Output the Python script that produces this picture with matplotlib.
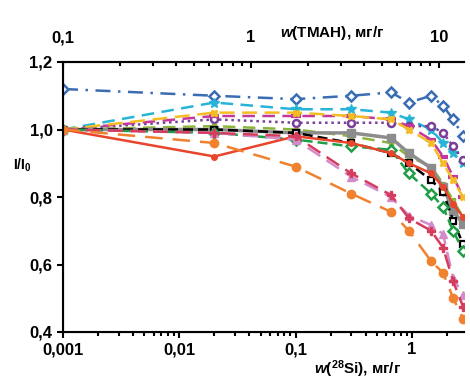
import numpy as np
import matplotlib
matplotlib.use('Agg')
import matplotlib.pyplot as plt
from matplotlib.ticker import LogLocator, NullFormatter

plt.rcParams['font.family'] = ['Liberation Sans', 'DejaVu Sans']
plt.rcParams['font.weight'] = 'bold'
plt.rcParams['mathtext.fontset'] = 'custom'
plt.rcParams['mathtext.rm'] = 'Liberation Sans:bold'
plt.rcParams['mathtext.it'] = 'Liberation Sans:italic:bold'
plt.rcParams['mathtext.bf'] = 'Liberation Sans:bold'

# w(28Si), mg/g
x = [0.001, 0.02, 0.1, 0.3, 0.66, 0.94, 1.46, 1.85, 2.26, 2.75]

blue    = [1.12, 1.10, 1.09, 1.10, 1.11, 1.08, 1.10, 1.07, 1.03, 0.98]
cyan    = [1.00, 1.08, 1.06, 1.06, 1.05, 1.03, 1.00, 0.96, 0.93, 0.90]
purple  = [1.00, 1.03, 1.02, 1.02, 1.02, 1.01, 1.01, 0.99, 0.95, 0.91]
magenta = [1.00, 1.04, 1.04, 1.04, 1.03, 1.01, 0.97, 0.92, 0.86, 0.80]
gold    = [1.00, 1.05, 1.05, 1.04, 1.03, 1.00, 0.96, 0.90, 0.85, 0.80]
olive   = [1.00, 1.01, 1.00, 0.98, 0.96, 0.92, 0.89, 0.84, 0.79, 0.74]
gray    = [1.00, 1.00, 0.99, 0.99, 0.975, 0.93, 0.886, 0.83, 0.76, 0.72]
black   = [1.00, 1.00, 0.99, 0.96, 0.93, 0.90, 0.85, 0.815, 0.73, 0.66]
green   = [1.00, 0.99, 0.97, 0.95, 0.94, 0.87, 0.81, 0.77, 0.70, 0.64]
red     = [1.00, 0.92, 0.98, 0.96, 0.93, 0.90, 0.87, 0.83, 0.78, 0.74]
pink    = [1.00, 0.99, 0.97, 0.86, 0.80, 0.745, 0.717, 0.69, 0.56, 0.51]
crimson = [1.00, 0.99, 0.98, 0.87, 0.806, 0.737, 0.70, 0.65, 0.55, 0.475]
orange  = [1.00, 0.96, 0.89, 0.81, 0.756, 0.70, 0.61, 0.575, 0.50, 0.44]

xticks = [0.001, 0.01, 0.1, 1]
xticklabels = ['0,001', '0,01', '0,1', '1']
yticks = [0.4, 0.6, 0.8, 1.0, 1.2]
yticklabels = ['0,4', '0,6', '0,8', '1,0', '1,2']
top_ticks = [0.1, 1, 10]
top_labels = ['0,1', '1', '10']

fig = plt.figure(figsize=(4.7, 3.8), dpi=100)
ax = fig.add_axes([63/470, 1-332/380, 401/470, 270/380])

ax.plot(x, blue, color='#3b6db3', ls=(0, (6, 3, 1, 3)), lw=1.8, marker='D', ms=5, mfc='white', mew=1.8)
ax.plot(x, cyan, color='#27b4d6', ls=(0, (5, 3)), lw=1.8, marker='*', ms=7)
ax.plot(x, purple, color='#7b3f9a', ls=(0, (1, 1.5)), lw=1.8, marker='o', ms=5, mfc='white', mew=1.8)
ax.plot(x, magenta, color='#c4389c', ls=(0, (5, 3)), lw=1.8, marker='_', ms=7, mew=3)
ax.plot(x, gold, color='#f5bd24', ls=(0, (6, 3)), lw=1.8, marker='X', ms=5)
ax.plot(x, olive, color='#8cb43a', ls=(0, (5, 3)), lw=1.8, marker='s', ms=3)
ax.plot(x, gray, color='#8c8c8c', ls='-', lw=2.5, marker='s', ms=6)
ax.plot(x, black, color='black', ls=(0, (4, 2)), lw=1.8, marker='s', ms=5, mfc='white', mew=1.6)
ax.plot(x, green, color='#1f9e48', ls=(0, (4, 2)), lw=1.8, marker='D', ms=5, mfc='white', mew=1.8)
ax.plot(x, red, color='#e8452c', ls='-', lw=1.8, marker='o', ms=4)
ax.plot(x, pink, color='#d38ccb', ls=(0, (6, 3)), lw=1.8, marker='^', ms=6)
ax.plot(x, crimson, color='#d63c5e', ls=(0, (6, 3)), lw=1.8, marker='P', ms=6)
ax.plot(x, orange, color='#f0812e', ls=(0, (7, 4)), lw=1.8, marker='o', ms=6)

ax.set_xscale('log')
ax.set_xlim(0.001, 2.8)
ax.set_ylim(0.4, 1.2)
ax.set_xticks(xticks)
ax.set_xticklabels(xticklabels)
ax.xaxis.set_minor_locator(LogLocator(base=10, subs=np.arange(2, 10)))
ax.xaxis.set_minor_formatter(NullFormatter())
ax.set_yticks(yticks)
ax.set_yticklabels(yticklabels)
ax.tick_params(axis='both', labelsize=12, width=1.5, length=4, direction='out')
ax.tick_params(axis='x', which='minor', width=1.5, length=3, direction='out')
for s in ['left', 'bottom', 'top']:
    ax.spines[s].set_linewidth(1.5)
ax.spines['right'].set_visible(False)

fig.text(358/470, 1-369/380, r'$w$($^{28}$Si), мг/г',
         ha='center', va='center', fontsize=11, fontweight='bold')
fig.text(22/470, 1-165/380, r'I/I$_0$', ha='center', va='center',
         fontsize=10, fontweight='bold')

top = ax.twiny()
top.set_xscale('log')
top.set_xlim(0.1, 13.6)
top.set_xticks(top_ticks)
top.set_xticklabels(top_labels)
top.xaxis.set_minor_locator(LogLocator(base=10, subs=np.arange(2, 10)))
top.xaxis.set_minor_formatter(NullFormatter())
top.tick_params(axis='x', labelsize=12, width=1.5, length=4, direction='in', pad=12)
top.tick_params(axis='x', which='minor', width=1.5, length=3, direction='in')
top.spines['right'].set_visible(False)
top.spines['top'].set_linewidth(1.5)
fig.text(332/470, 1-33/380, r'$w$(ТМАН), мг/г', ha='center', va='center',
         fontsize=11, fontweight='bold')

fig.savefig('out.png', dpi=100)
